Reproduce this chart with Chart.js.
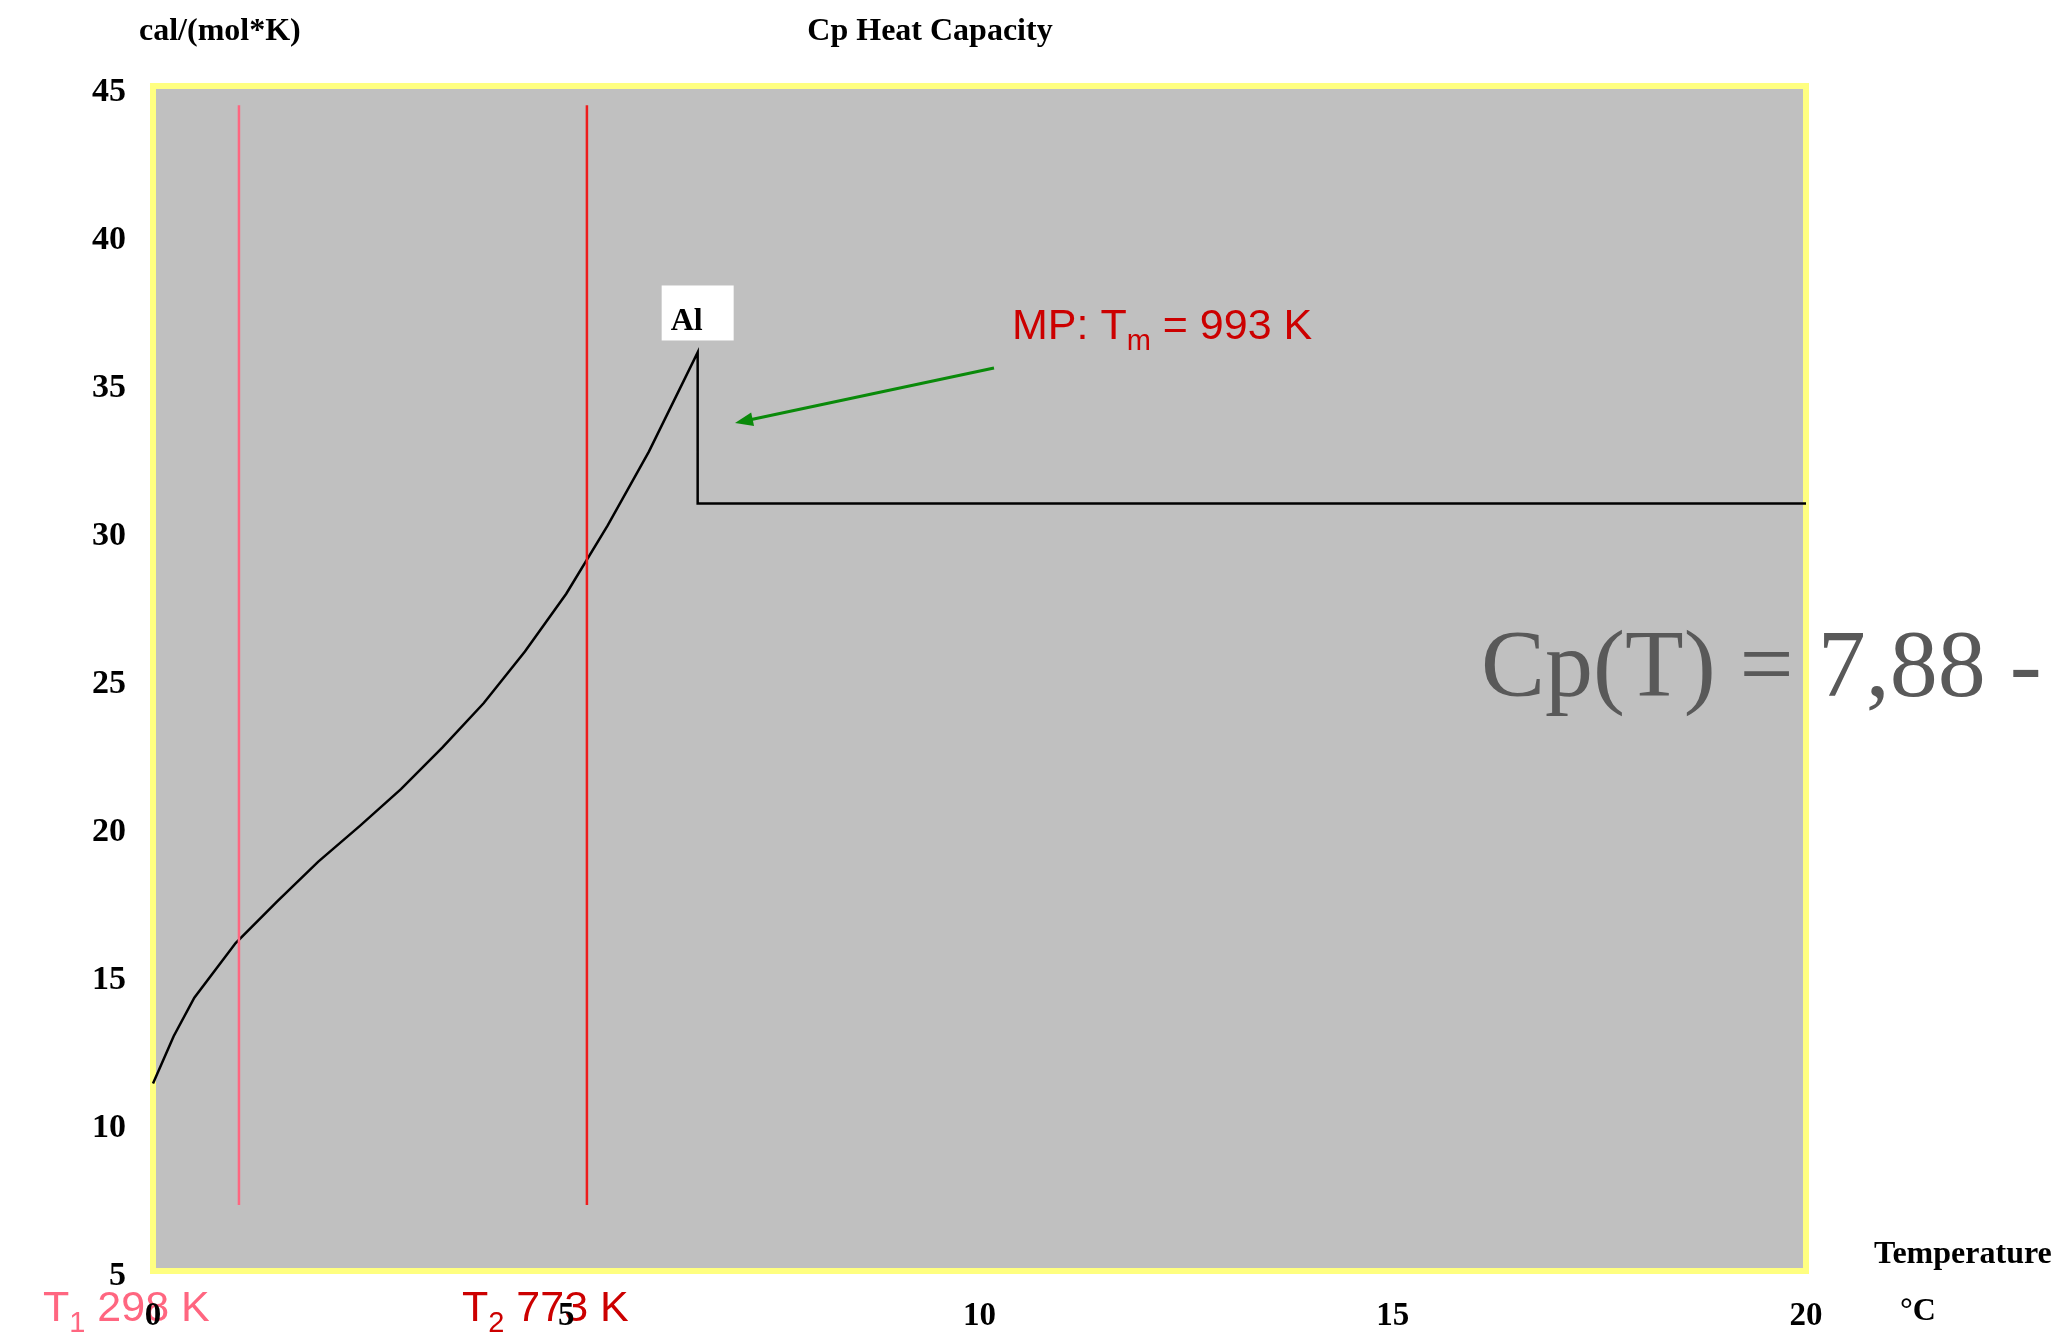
<!DOCTYPE html>
<html>
<head>
<meta charset="utf-8">
<script src="https://cdn.jsdelivr.net/npm/chart.js@4.4.0/dist/chart.umd.min.js"></script>
<style>
  html, body { margin: 0; padding: 0; background: #fff; }
  #wrap { width: 2059px; height: 1333px; position: relative; }
</style>
</head>
<body>
<div id="wrap"><canvas id="c"></canvas></div>
<script>
// Cp of aluminium (x in the sheet's own axis units)
const tempX = [0, 0.25, 0.5, 1.0, 1.5, 2.0, 2.5, 3.0, 3.5, 4.0, 4.5, 5.0, 5.5, 6.0, 6.59, 6.59, 20];
const cpY   = [11.5, 13.1, 14.4, 16.25, 17.65, 19.0, 20.2, 21.45, 22.85, 24.35, 26.1, 28.05, 30.35, 32.85, 36.2, 31.1, 31.1];

// T1 / T2 marker lines
const t1X = 1.04;
const t2X = 5.25;
const markerY = [7.4, 44.55];

const xTicks = [0, 5, 10, 15, 20];
const yTicks = [5, 10, 15, 20, 25, 30, 35, 40, 45];

const SERIF = '"Liberation Serif", "Times New Roman", serif';
const SANS = '"Liberation Sans", Arial, sans-serif';

function subText(ctx, x, y, parts) {
  // parts: [text, isSub]
  parts.forEach(function(p) {
    ctx.font = p[1] ? '29px ' + SANS : '43px ' + SANS;
    ctx.fillText(p[0], x, p[1] ? y + 15 : y);
    x += ctx.measureText(p[0]).width;
  });
}

const decor = {
  id: 'decor',
  beforeDraw(chart) {
    const ctx = chart.ctx, a = chart.chartArea;
    ctx.save();
    ctx.fillStyle = '#fff';
    ctx.fillRect(0, 0, chart.width, chart.height);
    // plot frame sits a few px above the value range
    const top = a.top - 6, bot = a.bottom - 5;
    ctx.fillStyle = '#c0c0c0';
    ctx.fillRect(a.left, top, a.width, bot - top);
    ctx.strokeStyle = '#ffff80';
    ctx.lineWidth = 6;
    ctx.strokeRect(a.left, top, a.width, bot - top);

    // T1 / T2 labels under the axis
    ctx.textBaseline = 'middle';
    ctx.textAlign = 'left';
    ctx.fillStyle = '#ff6680';
    subText(ctx, 43, 1309, [['T', false], ['1', true], [' 298 K', false]]);
    ctx.fillStyle = '#cc0000';
    subText(ctx, 462, 1309, [['T', false], ['2', true], [' 773 K', false]]);
    ctx.restore();
  },
  afterDraw(chart) {
    const ctx = chart.ctx;
    const xs = chart.scales.x, ys = chart.scales.y;
    ctx.save();
    ctx.fillStyle = '#000';
    ctx.textBaseline = 'middle';
    ctx.font = 'bold 32px ' + SERIF;
    ctx.textAlign = 'left';
    ctx.fillText('cal/(mol*K)', 139, 32);
    ctx.fillText('Temperature', 1874, 1255);
    ctx.fillText('°C', 1900, 1312);
    ctx.textAlign = 'center';
    ctx.fillText('Cp Heat Capacity', 930, 32);

    // "Al" tag over the melting peak
    const px = xs.getPixelForValue(tempX[14]);
    const py = ys.getPixelForValue(cpY[14]);
    ctx.fillStyle = '#fff';
    ctx.fillRect(px - 36, py - 67, 72, 55);
    ctx.fillStyle = '#000';
    ctx.textAlign = 'left';
    ctx.fillText('Al', px - 27, py - 31);

    // melting point note + arrow
    ctx.fillStyle = '#cc0000';
    subText(ctx, 1012, 327, [['MP: T', false], ['m', true], [' = 993 K', false]]);

    const x0 = 994, y0 = 368, x1 = 735, y1 = 423;
    const ang = Math.atan2(y1 - y0, x1 - x0);
    ctx.strokeStyle = '#0a8a0a';
    ctx.fillStyle = '#0a8a0a';
    ctx.lineWidth = 3;
    ctx.beginPath();
    ctx.moveTo(x0, y0);
    ctx.lineTo(x1 - 12 * Math.cos(ang), y1 - 12 * Math.sin(ang));
    ctx.stroke();
    ctx.beginPath();
    ctx.moveTo(x1, y1);
    ctx.lineTo(x1 - 18 * Math.cos(ang) + 7 * Math.sin(ang), y1 - 18 * Math.sin(ang) - 7 * Math.cos(ang));
    ctx.lineTo(x1 - 18 * Math.cos(ang) - 7 * Math.sin(ang), y1 - 18 * Math.sin(ang) + 7 * Math.cos(ang));
    ctx.closePath();
    ctx.fill();

    // big formula text running off the right
    ctx.fillStyle = '#595959';
    ctx.font = '96px ' + SERIF;
    ctx.textBaseline = 'alphabetic';
    ctx.fillText('Cp(T) = 7,88 -', 1481, 696);
    ctx.restore();
  }
};

new Chart(document.getElementById('c'), {
  type: 'scatter',
  data: {
    datasets: [
      { data: markerY.map(function(y) { return { x: t1X, y: y }; }), borderColor: '#ff6680', borderWidth: 2.5, showLine: true, pointRadius: 0 },
      { data: markerY.map(function(y) { return { x: t2X, y: y }; }), borderColor: '#ee1c1c', borderWidth: 2.5, showLine: true, pointRadius: 0 },
      { data: tempX.map(function(x, i) { return { x: x, y: cpY[i] }; }), borderColor: '#000', borderWidth: 2.5, showLine: true, pointRadius: 0, tension: 0, clip: false }
    ]
  },
  options: {
    responsive: true, maintainAspectRatio: false, animation: false,
    layout: { padding: { left: 0, top: 92, right: 253, bottom: 0 } },
    plugins: { legend: { display: false }, tooltip: { enabled: false } },
    scales: {
      x: {
        type: 'linear', min: 0, max: 20,
        afterBuildTicks: function(s) { s.ticks = xTicks.map(function(v) { return { value: v }; }); },
        afterFit: function(s) { s.height = 57; },
        grid: { display: false, drawTicks: false }, border: { display: false },
        ticks: { color: '#000', padding: 21, maxRotation: 0, font: { family: SERIF, size: 33, weight: 'bold' } }
      },
      y: {
        type: 'linear', min: 5, max: 45,
        afterBuildTicks: function(s) { s.ticks = yTicks.map(function(v) { return { value: v }; }); },
        afterFit: function(s) { s.width = 153; },
        grid: { display: false, drawTicks: false }, border: { display: false },
        ticks: { color: '#000', padding: 27, font: { family: SERIF, size: 34, weight: 'bold' } }
      }
    }
  },
  plugins: [decor]
});
</script>
</body>
</html>
